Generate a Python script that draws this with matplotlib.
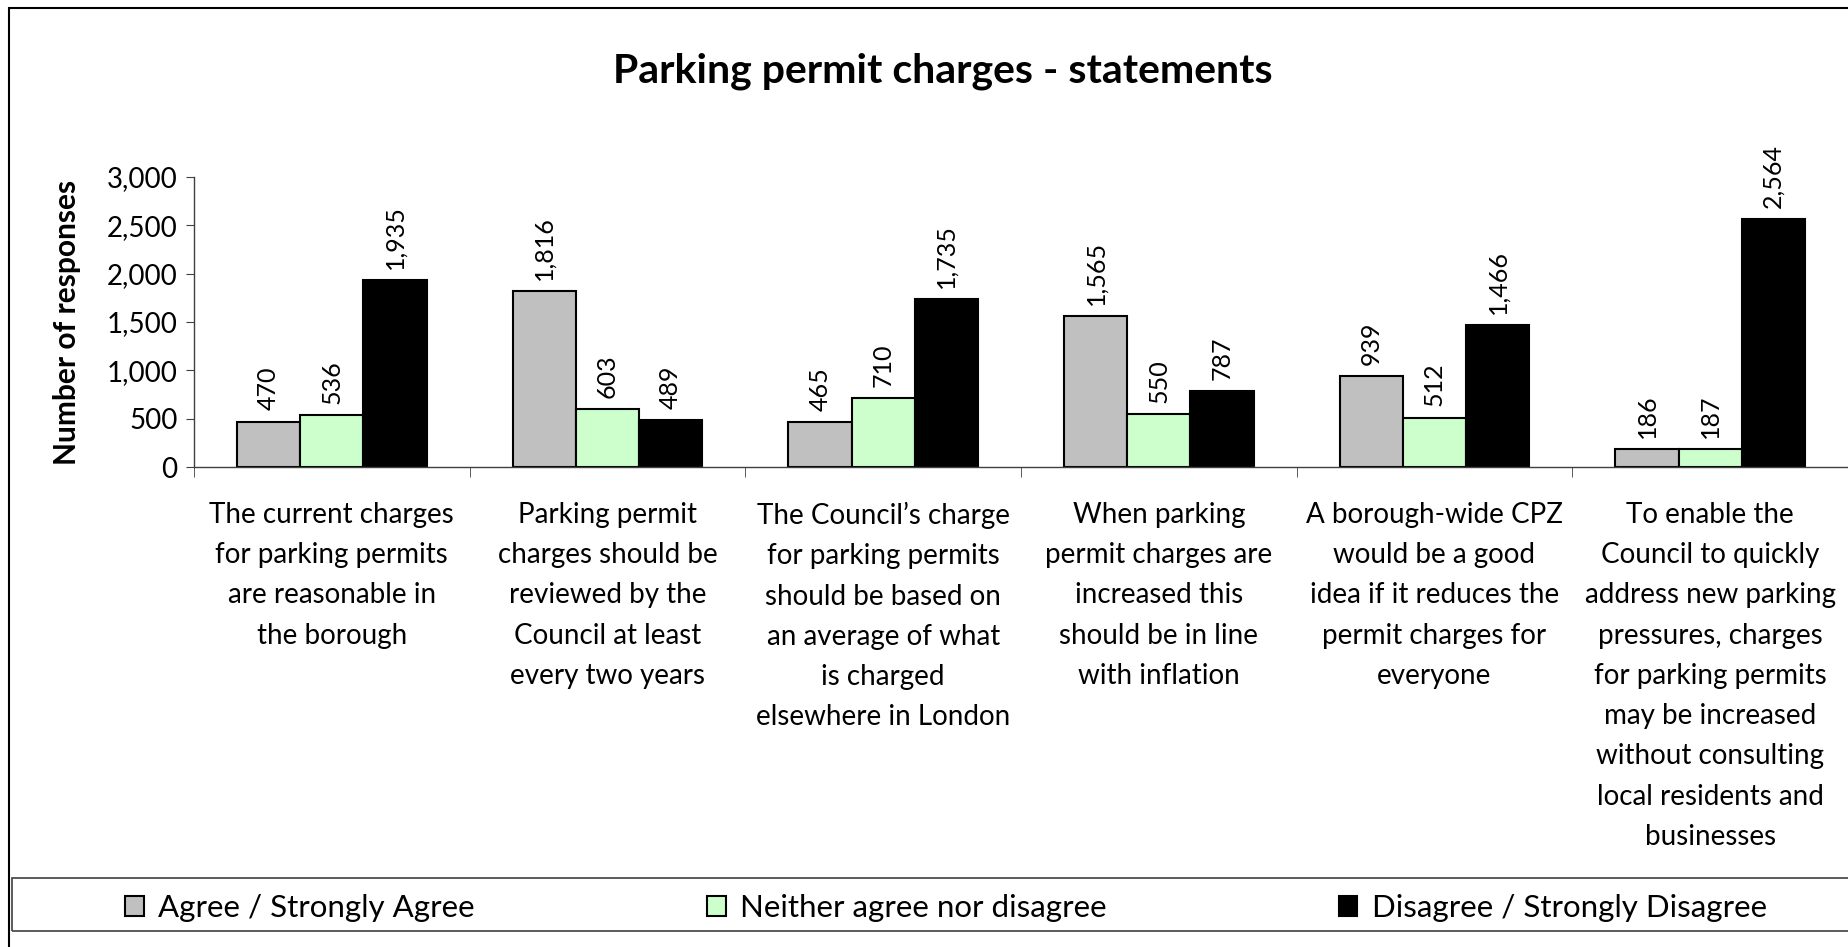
import matplotlib.pyplot as plt
import matplotlib.patches as mpatches
import numpy as np

plt.rcParams['font.family'] = ['Lato', 'DejaVu Sans']

categories = [
    "The current charges\nfor parking permits\nare reasonable in\nthe borough",
    "Parking permit\ncharges should be\nreviewed by the\nCouncil at least\nevery two years",
    "The Council\u2019s charge\nfor parking permits\nshould be based on\nan average of what\nis charged\nelsewhere in London",
    "When parking\npermit charges are\nincreased this\nshould be in line\nwith inflation",
    "A borough-wide CPZ\nwould be a good\nidea if it reduces the\npermit charges for\neveryone",
    "To enable the\nCouncil to quickly\naddress new parking\npressures, charges\nfor parking permits\nmay be increased\nwithout consulting\nlocal residents and\nbusinesses",
]
series_names = ["Agree / Strongly Agree", "Neither agree nor disagree", "Disagree / Strongly Disagree"]
agree = [470, 1816, 465, 1565, 939, 186]
neither = [536, 603, 710, 550, 512, 187]
disagree = [1935, 489, 1735, 787, 1466, 2564]
colors = ["#C0C0C0", "#CCFFCC", "#000000"]

W, H = 1848, 947
fig = plt.figure(figsize=(W / 100, H / 100), dpi=100)
ax = fig.add_axes([194 / W, 1 - 467 / H, 1 - 194 / W, 290 / H])

x = np.arange(len(categories))
bw = 0.229
handles = []
for i, (vals, c) in enumerate(zip([agree, neither, disagree], colors)):
    rects = ax.bar(x + (i - 1) * bw, vals, bw, color=c, edgecolor="black",
                   linewidth=1.5, label=series_names[i])
    ax.bar_label(rects, labels=[f"{v:,}" for v in vals], rotation=90,
                 padding=8, fontsize=18)
    handles.append(rects)

ax.set_xlim(-0.5, len(categories) - 0.5)
ax.set_ylim(0, 3000)
ax.set_yticks(np.arange(0, 3001, 500))
ax.set_yticklabels([f"{v:,}" for v in range(0, 3001, 500)], fontsize=20)
ax.set_xticks(x)
ax.set_xticklabels(categories, fontsize=20, linespacing=1.68, va="top")
ax.set_xticks(np.arange(-0.5, len(categories), 1), minor=True)
ax.tick_params(axis="x", which="major", length=0, pad=25)
ax.tick_params(axis="x", which="minor", length=7, color="#404040", direction="out")
ax.tick_params(axis="y", length=6, color="#404040", pad=6)
for s in ["top", "right"]:
    ax.spines[s].set_visible(False)
for s in ["left", "bottom"]:
    ax.spines[s].set_color("#404040")
    ax.spines[s].set_linewidth(1)

fig.text(67 / W, 1 - 322 / H, "Number of responses", rotation=90, ha="center",
         va="center", fontsize=21.5, fontweight="bold")
fig.text(943 / W, 1 - 71 / H, "Parking permit charges - statements", ha="center",
         va="center", fontsize=29.5, fontweight="bold")

# outer chart border
fig.add_artist(mpatches.Rectangle((9 / W, -0.05), 1.2, 1 - 8 / H + 0.05,
                                  transform=fig.transFigure, fill=False,
                                  edgecolor="black", linewidth=1.5))
# legend box
fig.add_artist(mpatches.Rectangle((12 / W, 1 - 931 / H), 1.2, 53 / H,
                                  transform=fig.transFigure, fill=False,
                                  edgecolor="#404040", linewidth=1.2))
fig.legend(handles=handles, loc="lower left", ncol=3, mode="expand",
           bbox_to_anchor=(116 / W, 1 - 931 / H, (1776 - 116) / W, 53 / H),
           frameon=False, fontsize=22.5, handlelength=0.6, handleheight=0.6,
           handletextpad=0.45, borderpad=0.3, borderaxespad=0)

fig.savefig("out.png", dpi=100)
